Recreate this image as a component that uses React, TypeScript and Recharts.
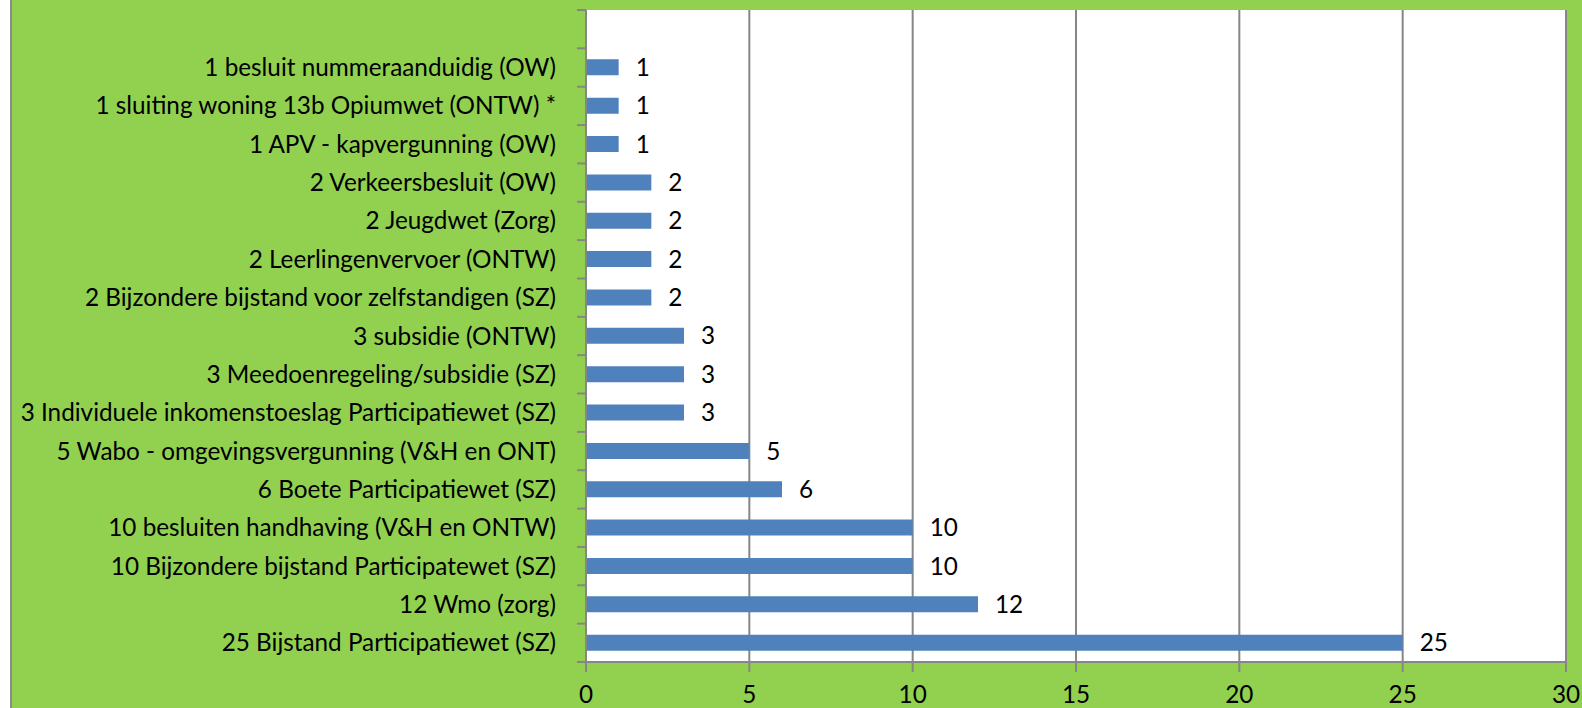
import { BarChart, Bar, XAxis, YAxis, CartesianGrid, LabelList } from 'recharts';

const categories = [
  '',
  '1 besluit nummeraanduidig (OW)',
  '1 sluiting woning 13b Opiumwet (ONTW) *',
  '1 APV - kapvergunning (OW)',
  '2 Verkeersbesluit (OW)',
  '2 Jeugdwet (Zorg)',
  '2 Leerlingenvervoer (ONTW)',
  '2 Bijzondere bijstand voor zelfstandigen (SZ)',
  '3 subsidie (ONTW)',
  '3 Meedoenregeling/subsidie (SZ)',
  '3 Individuele inkomenstoeslag Participatiewet (SZ)',
  '5 Wabo - omgevingsvergunning (V&H en ONT)',
  '6 Boete Participatiewet (SZ)',
  '10 besluiten handhaving (V&H en ONTW)',
  '10 Bijzondere bijstand Participatewet (SZ)',
  '12 Wmo (zorg)',
  '25 Bijstand Participatiewet (SZ)',
];
const counts = [null, 1, 1, 1, 2, 2, 2, 2, 3, 3, 3, 5, 6, 10, 10, 12, 25];
const xTicks = [0, 5, 10, 15, 20, 25, 30];

const data = categories.map((name, i) => ({ name, value: counts[i] }));

const FONT = 'Lato, "Open Sans", sans-serif';
const FONT_SIZE = 24.3;
const PLOT_TOP = 10;
const PLOT_BOTTOM = 662;
const BAND = (PLOT_BOTTOM - PLOT_TOP) / categories.length;
const LABEL_GAP = 30;

function CategoryTick(props: any) {
  const { x, y, payload, index } = props;
  const axisX = x + LABEL_GAP;
  return (
    <g>
      <line x1={axisX - 9} x2={axisX} y1={y - BAND / 2} y2={y - BAND / 2} stroke="#868686" strokeWidth={2} />
      {index === categories.length - 1 && (
        <line x1={axisX - 9} x2={axisX} y1={y + BAND / 2} y2={y + BAND / 2} stroke="#868686" strokeWidth={2} />
      )}
      <text x={x} y={y} dy="0.35em" textAnchor="end" fill="#000" fontSize={FONT_SIZE} fontFamily={FONT}>
        {payload.value}
      </text>
    </g>
  );
}

export default function App() {
  return (
    <div style={{ position: 'absolute', left: 0, top: 0, width: 1582, height: 708, display: 'flex', background: '#fff' }}>
      <div style={{ width: 10, height: 708, borderRight: '2px solid #8c8c8c' }} />
      <div style={{ width: 1570, height: 708, background: '#92D050' }}>
        <BarChart
          width={1570}
          height={708}
          data={data}
          layout="vertical"
          margin={{ top: PLOT_TOP, right: 16, bottom: 0, left: 0 }}
          barSize={16}
        >
          <CartesianGrid horizontal={false} vertical fill="#fff" stroke="#868686" strokeWidth={2} />
          <XAxis
            type="number"
            domain={[0, 30]}
            ticks={xTicks}
            interval={0}
            height={708 - PLOT_BOTTOM}
            stroke="#868686"
            strokeWidth={2}
            tickSize={10}
            tickMargin={14}
            tick={{ fill: '#000', fontSize: FONT_SIZE, fontFamily: FONT }}
          />
          <YAxis
            type="category"
            dataKey="name"
            width={574}
            interval={0}
            tickLine={false}
            tickSize={0}
            stroke="#868686"
            strokeWidth={2}
            tickMargin={LABEL_GAP}
            tick={<CategoryTick />}
          />
          <Bar dataKey="value" fill="#4F81BD" isAnimationActive={false}>
            <LabelList dataKey="value" position="right" offset={17} fill="#000" fontSize={FONT_SIZE} fontFamily={FONT} />
          </Bar>
        </BarChart>
      </div>
    </div>
  );
}
